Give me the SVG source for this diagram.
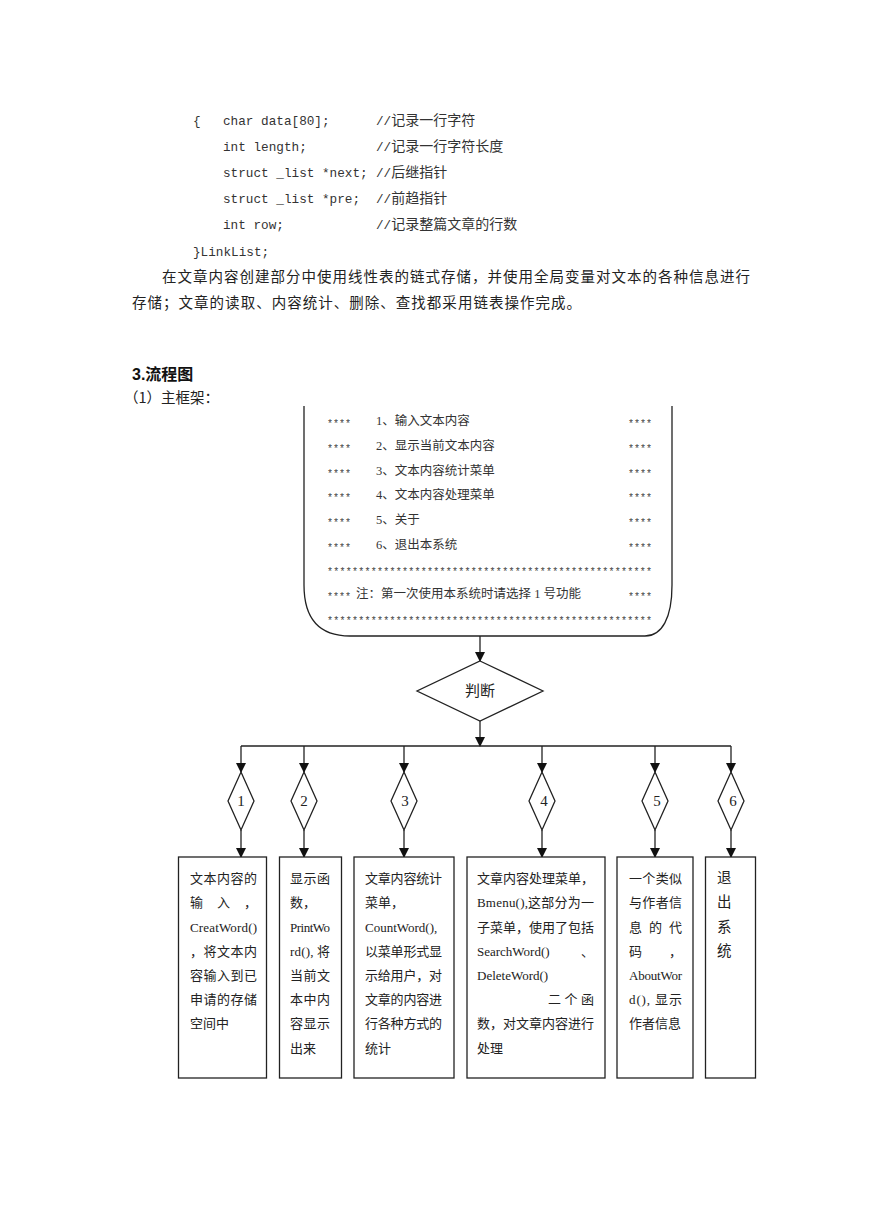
<svg xmlns="http://www.w3.org/2000/svg" width="869" height="1228" viewBox="0 0 869 1228">
<style>
.code{font-family:"Liberation Mono",monospace;font-size:12.7px;fill:#333}
.cj{font-family:"Noto Sans CJK SC",sans-serif;font-size:14px;fill:#333}
.para{font-family:"Noto Sans CJK SC",sans-serif;font-size:14.5px;fill:#222}
.menu{font-family:"Liberation Serif","Noto Sans CJK SC",serif;font-size:12.5px;fill:#333}
.star{font-family:"Liberation Mono",monospace;font-size:10px;fill:#444}
.bt{font-family:"Liberation Serif","Noto Sans CJK SC",serif;font-size:13px;fill:#222}
.lbl{font-family:"Liberation Serif","Noto Sans CJK SC",serif;font-size:15px;fill:#222}
.shape{fill:#fff;stroke:#222;stroke-width:1.3}
.conn{fill:none;stroke:#222;stroke-width:1.3}
</style>
<defs>
<marker id="arr" markerUnits="userSpaceOnUse" markerWidth="10" markerHeight="12" refX="9" refY="5" orient="auto">
<path d="M0,0 L10,5 L0,10 z" fill="#111"/>
</marker>
</defs>
<rect width="869" height="1228" fill="#fff"/>

<g id="code">
<text class="code" x="193" y="125">{</text>
<text class="code" x="223" y="125">char data[80];</text>
<text x="376" y="125"><tspan class="code">//</tspan><tspan class="cj">记录一行字符</tspan></text>
<text class="code" x="223" y="151">int length;</text>
<text x="376" y="151"><tspan class="code">//</tspan><tspan class="cj">记录一行字符长度</tspan></text>
<text class="code" x="223" y="177">struct _list *next;</text>
<text x="376" y="177"><tspan class="code">//</tspan><tspan class="cj">后继指针</tspan></text>
<text class="code" x="223" y="203">struct _list *pre;</text>
<text x="376" y="203"><tspan class="code">//</tspan><tspan class="cj">前趋指针</tspan></text>
<text class="code" x="223" y="229">int row;</text>
<text x="376" y="229"><tspan class="code">//</tspan><tspan class="cj">记录整篇文章的行数</tspan></text>
<text class="code" x="193" y="256">}LinkList;</text>
</g>

<g id="paragraph">
<text class="para" x="162" y="282" textLength="588" lengthAdjust="spacing">在文章内容创建部分中使用线性表的链式存储，并使用全局变量对文本的各种信息进行</text>
<text class="para" x="132" y="308" textLength="449" lengthAdjust="spacing">存储；文章的读取、内容统计、删除、查找都采用链表操作完成。</text>
<text x="132" y="380" style="font-family:'Liberation Sans','Noto Sans CJK SC',sans-serif;font-size:16px;font-weight:bold;fill:#111">3.流程图</text>
<text class="para" x="124" y="403">（1）主框架：</text>
</g>

<g id="connectors">
<line class="conn" x1="480" y1="636" x2="480" y2="661" marker-end="url(#arr)"/>
<line class="conn" x1="480" y1="721" x2="480" y2="746" marker-end="url(#arr)"/>
<line class="conn" x1="241" y1="746" x2="731" y2="746"/>
<line class="conn" x1="241" y1="746" x2="241" y2="772" marker-end="url(#arr)"/>
<line class="conn" x1="304" y1="746" x2="304" y2="772" marker-end="url(#arr)"/>
<line class="conn" x1="404" y1="746" x2="404" y2="772" marker-end="url(#arr)"/>
<line class="conn" x1="542" y1="746" x2="542" y2="772" marker-end="url(#arr)"/>
<line class="conn" x1="655" y1="746" x2="655" y2="772" marker-end="url(#arr)"/>
<line class="conn" x1="731" y1="746" x2="731" y2="772" marker-end="url(#arr)"/>
<line class="conn" x1="241" y1="830" x2="241" y2="857" marker-end="url(#arr)"/>
<line class="conn" x1="304" y1="830" x2="304" y2="857" marker-end="url(#arr)"/>
<line class="conn" x1="404" y1="830" x2="404" y2="857" marker-end="url(#arr)"/>
<line class="conn" x1="542" y1="830" x2="542" y2="857" marker-end="url(#arr)"/>
<line class="conn" x1="655" y1="830" x2="655" y2="857" marker-end="url(#arr)"/>
<line class="conn" x1="731" y1="830" x2="731" y2="857" marker-end="url(#arr)"/>
</g>

<g id="menu">
<path class="conn" d="M304,406 V585 C304,622 322,636 350,636 H645 C662,636 672,618 672,585 V406"/>
<text class="star" x="327" y="427">****</text><text class="menu" x="376" y="425">1、输入文本内容</text><text class="star" x="628" y="427">****</text>
<text class="star" x="327" y="452">****</text><text class="menu" x="376" y="450">2、显示当前文本内容</text><text class="star" x="628" y="452">****</text>
<text class="star" x="327" y="477">****</text><text class="menu" x="376" y="475">3、文本内容统计菜单</text><text class="star" x="628" y="477">****</text>
<text class="star" x="327" y="501">****</text><text class="menu" x="376" y="499">4、文本内容处理菜单</text><text class="star" x="628" y="501">****</text>
<text class="star" x="327" y="526">****</text><text class="menu" x="376" y="524">5、关于</text><text class="star" x="628" y="526">****</text>
<text class="star" x="327" y="551">****</text><text class="menu" x="376" y="549">6、退出本系统</text><text class="star" x="628" y="551">****</text>
<text class="star" x="327" y="575" textLength="325" lengthAdjust="spacing">****************************************************</text>
<text class="star" x="327" y="600">****</text><text class="menu" x="356" y="598">注：第一次使用本系统时请选择 1 号功能</text><text class="star" x="628" y="600">****</text>
<text class="star" x="327" y="624" textLength="325" lengthAdjust="spacing">****************************************************</text>
</g>

<g id="judge">
<polygon class="shape" points="480,661 543,691 480,721 417,691"/>
<text class="lbl" x="480" y="696" text-anchor="middle">判断</text>
</g>

<g id="d1"><polygon class="shape" points="241,772 254,801 241,830 228,801"/><text class="lbl" x="241" y="806" text-anchor="middle">1</text></g>
<g id="d2"><polygon class="shape" points="304,772 317,801 304,830 291,801"/><text class="lbl" x="304" y="806" text-anchor="middle">2</text></g>
<g id="d3"><polygon class="shape" points="404,772 417,801 404,830 391,801"/><text class="lbl" x="405" y="806" text-anchor="middle">3</text></g>
<g id="d4"><polygon class="shape" points="542,772 555,801 542,830 529,801"/><text class="lbl" x="544" y="806" text-anchor="middle">4</text></g>
<g id="d5"><polygon class="shape" points="655,772 668,801 655,830 642,801"/><text class="lbl" x="657" y="806" text-anchor="middle">5</text></g>
<g id="d6"><polygon class="shape" points="731,772 744,801 731,830 718,801"/><text class="lbl" x="733" y="806" text-anchor="middle">6</text></g>

<g id="box1">
<rect class="shape" x="178.5" y="857" width="88" height="221"/>
<text class="bt" x="190" y="883" textLength="67" lengthAdjust="spacing">文本内容的</text>
<text class="bt" x="190" y="907" textLength="67" lengthAdjust="spacing">输入，</text>
<text class="bt" x="190" y="932" textLength="67" lengthAdjust="spacing">CreatWord()</text>
<text class="bt" x="190" y="956" textLength="67" lengthAdjust="spacing">，将文本内</text>
<text class="bt" x="190" y="980" textLength="67" lengthAdjust="spacing">容输入到已</text>
<text class="bt" x="190" y="1004" textLength="67" lengthAdjust="spacing">申请的存储</text>
<text class="bt" x="190" y="1028">空间中</text>
</g>

<g id="box2">
<rect class="shape" x="279.5" y="857" width="62" height="221"/>
<text class="bt" x="290" y="883" textLength="40" lengthAdjust="spacing">显示函</text>
<text class="bt" x="290" y="907">数，</text>
<text class="bt" x="290" y="932" textLength="40" lengthAdjust="spacing">PrintWo</text>
<text class="bt" x="290" y="956" textLength="40" lengthAdjust="spacing">rd(), 将</text>
<text class="bt" x="290" y="980" textLength="40" lengthAdjust="spacing">当前文</text>
<text class="bt" x="290" y="1004" textLength="40" lengthAdjust="spacing">本中内</text>
<text class="bt" x="290" y="1028" textLength="40" lengthAdjust="spacing">容显示</text>
<text class="bt" x="290" y="1053">出来</text>
</g>

<g id="box3">
<rect class="shape" x="354" y="857" width="100" height="221"/>
<text class="bt" x="365" y="883" textLength="77" lengthAdjust="spacing">文章内容统计</text>
<text class="bt" x="365" y="907">菜单，</text>
<text class="bt" x="365" y="932">CountWord(),</text>
<text class="bt" x="365" y="956" textLength="77" lengthAdjust="spacing">以菜单形式显</text>
<text class="bt" x="365" y="980" textLength="77" lengthAdjust="spacing">示给用户，对</text>
<text class="bt" x="365" y="1004" textLength="77" lengthAdjust="spacing">文章的内容进</text>
<text class="bt" x="365" y="1028" textLength="77" lengthAdjust="spacing">行各种方式的</text>
<text class="bt" x="365" y="1053">统计</text>
</g>

<g id="box4">
<rect class="shape" x="467" y="857" width="138" height="221"/>
<text class="bt" x="477" y="883" textLength="117" lengthAdjust="spacing">文章内容处理菜单，</text>
<text class="bt" x="477" y="907" textLength="117" lengthAdjust="spacing">Bmenu(),这部分为一</text>
<text class="bt" x="477" y="932" textLength="117" lengthAdjust="spacing">子菜单，使用了包括</text>
<text class="bt" x="477" y="956">SearchWord()<tspan x="581">、</tspan></text>
<text class="bt" x="477" y="980">DeleteWord()</text>
<text class="bt" x="548" y="1004" textLength="46" lengthAdjust="spacing">二个函</text>
<text class="bt" x="477" y="1028" textLength="117" lengthAdjust="spacing">数，对文章内容进行</text>
<text class="bt" x="477" y="1053">处理</text>
</g>

<g id="box5">
<rect class="shape" x="617" y="857" width="76" height="221"/>
<text class="bt" x="629" y="883" textLength="53" lengthAdjust="spacing">一个类似</text>
<text class="bt" x="629" y="907" textLength="53" lengthAdjust="spacing">与作者信</text>
<text class="bt" x="629" y="932" textLength="53" lengthAdjust="spacing">息的代</text>
<text class="bt" x="629" y="956" textLength="53" lengthAdjust="spacing">码，</text>
<text class="bt" x="629" y="980" textLength="53" lengthAdjust="spacing">AboutWor</text>
<text class="bt" x="629" y="1004" textLength="53" lengthAdjust="spacing">d(), 显示</text>
<text class="bt" x="629" y="1028">作者信息</text>
</g>

<g id="box6">
<rect class="shape" x="705.5" y="857" width="50" height="221"/>
<text class="bt" x="717" y="883" style="font-size:14.5px">退</text>
<text class="bt" x="717" y="907" style="font-size:14.5px">出</text>
<text class="bt" x="717" y="932" style="font-size:14.5px">系</text>
<text class="bt" x="717" y="956" style="font-size:14.5px">统</text>
</g>
</svg>
